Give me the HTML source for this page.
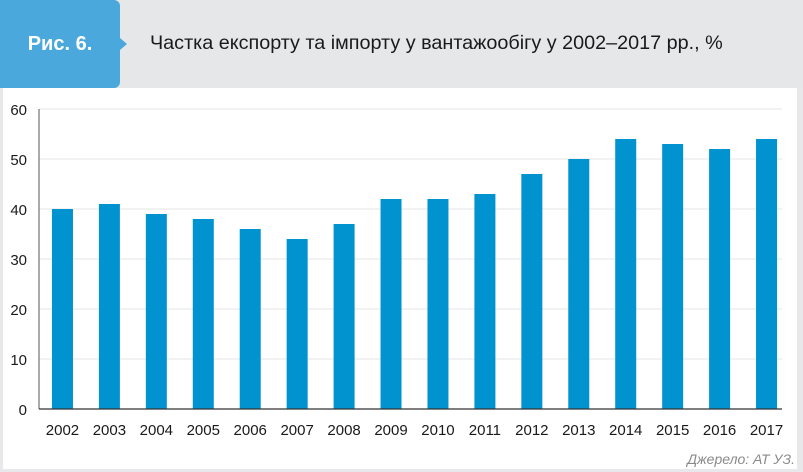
<!DOCTYPE html>
<html><head><meta charset="utf-8"><style>
html,body{margin:0;padding:0;}
body{width:803px;height:472px;background:#e8e8ea;position:relative;overflow:hidden;font-family:"Liberation Sans",sans-serif;}
#hdr{position:absolute;left:0;top:0;width:803px;height:88px;background:#e6e7e9;}
#fig{position:absolute;left:0;top:0;width:120px;height:88px;background:#4aa8dc;border-radius:0 6px 6px 0;color:#fff;font-weight:bold;font-size:20px;line-height:88px;text-align:center;}
#notch{position:absolute;left:120px;top:38px;width:0;height:0;border-top:6px solid transparent;border-bottom:6px solid transparent;border-left:7px solid #4aa8dc;}
#title{position:absolute;left:150px;top:32px;font-size:19.8px;color:#1a1a1a;}
#panel{position:absolute;left:3px;top:88px;width:794px;height:381px;background:#fff;}
#src{position:absolute;right:8px;top:451px;font-size:14px;font-style:italic;color:#8a8a8a;}
svg{position:absolute;left:0;top:0;}
</style></head><body>
<div id="hdr"></div>
<div id="fig">Рис. 6.</div>
<div id="notch"></div>
<div id="title">Частка експорту та імпорту у вантажообігу у 2002–2017 рр., %</div>
<div id="panel"></div>
<svg id="chart" width="803" height="472"></svg>
<div id="src">Джерело: АТ УЗ.</div>
<script>
const years=["2002","2003","2004","2005","2006","2007","2008","2009","2010","2011","2012","2013","2014","2015","2016","2017"];
const shares=[40,41,39,38,36,34,37,42,42,43,47,50,54,53,52,54];
const yTicks=[0,10,20,30,40,50,60];
const svg=document.getElementById('chart');
const NS='http://www.w3.org/2000/svg';
const x0=39,x1=782,yZero=409,pxPerUnit=5;
const band=(x1-x0+8)/years.length;
function y(v){return yZero-v*pxPerUnit;}
function xc(i){return x0+band*(i+0.5);}
function mk(t,a){const e=document.createElementNS(NS,t);for(const k in a)e.setAttribute(k,a[k]);svg.appendChild(e);return e;}
yTicks.forEach(t=>{
  if(t>0){const g=mk('line',{x1:x0,x2:x1,y1:y(t),y2:y(t),stroke:'#e6e6e6','stroke-width':1});
  
  }
  const l=mk('text',{x:27,y:y(t)+6,'text-anchor':'end','font-size':15,fill:'#1a1a1a','font-family':'Liberation Sans, sans-serif'});
  l.textContent=t;
  
  
});
years.forEach((yr,i)=>{
  const b=mk('rect',{x:xc(i)-10.5,y:y(shares[i]),width:21,height:shares[i]*pxPerUnit,fill:'#0093d0'});
  
  
  const l=mk('text',{x:xc(i),y:435,'text-anchor':'middle','font-size':15,fill:'#1a1a1a','font-family':'Liberation Sans, sans-serif'});
  l.textContent=yr;
  
  
});
const ya=mk('line',{x1:x0,x2:x0,y1:y(60),y2:yZero,stroke:'#555','stroke-width':1});


const xa=mk('line',{x1:x0,x2:x1,y1:yZero,y2:yZero,stroke:'#333','stroke-width':1.2});


</script>
</body></html>
